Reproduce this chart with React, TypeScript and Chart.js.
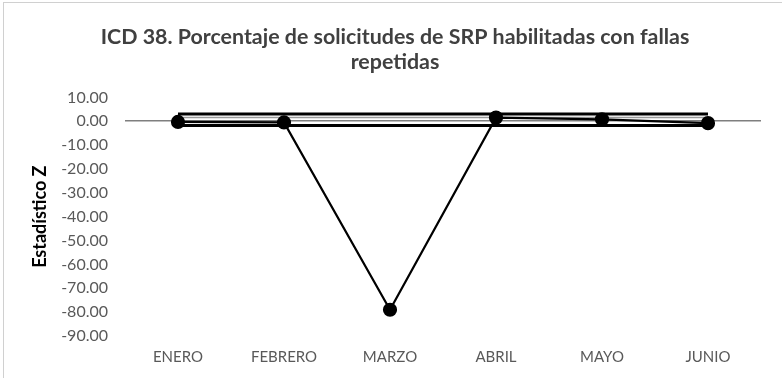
import React, { useEffect, useRef } from "react";
import { Chart, registerables } from "chart.js";

Chart.register(...registerables);

const categories = ["ENERO", "FEBRERO", "MARZO", "ABRIL", "MAYO", "JUNIO"];
const zValues = [-0.3, -0.5, -79.0, 1.5, 0.8, -0.8];
const upperLimit = [3.0, 3.0, 3.0, 3.0, 3.0, 3.0];
const midLine = [1.6, 1.6, 1.6, 1.6, 1.6, 1.6];
const lowerLimit = [-1.8, -1.8, -1.8, -1.8, -1.8, -1.8];
const titleLines = ["ICD 38. Porcentaje de solicitudes de SRP habilitadas con fallas", "repetidas"];
const yTitle = "Estadístico Z";

export default function App() {
  const ref = useRef<HTMLCanvasElement | null>(null);
  useEffect(() => {
    document.body.style.margin = "0";
    if (!ref.current) return;
    const chart = new Chart(ref.current, {
      type: "line",
      data: {
        labels: categories,
        datasets: [
          {
            label: "Z",
            data: zValues,
            borderColor: "#000000",
            backgroundColor: "#000000",
            borderWidth: 2.2,
            pointRadius: 6,
            pointHoverRadius: 6,
            tension: 0,
          },
          {
            label: "LS",
            data: upperLimit,
            borderColor: "#000000",
            borderWidth: 3,
            pointRadius: 0,
          },
          {
            label: "M",
            data: midLine,
            borderColor: "#9a9a9a",
            borderWidth: 1.5,
            pointRadius: 0,
          },
          {
            label: "LI",
            data: lowerLimit,
            borderColor: "#000000",
            borderWidth: 3,
            pointRadius: 0,
          },
        ],
      },
      options: {
        responsive: false,
        animation: false,
        layout: { padding: { left: 29, right: 21, top: 0, bottom: 0 } },
        plugins: {
          legend: { display: false },
          tooltip: { enabled: false },
          title: {
            display: true,
            text: titleLines,
            color: "#404040",
            font: { family: "Lato", size: 21.4, weight: "bold", lineHeight: 1.2 },
            padding: { top: 24, bottom: 22 },
          },
        },
        scales: {
          x: {
            offset: true,
            grid: { display: false, drawTicks: false },
            border: { display: false },
            ticks: {
              color: "#595959",
              font: { family: "Lato", size: 15 },
              padding: 12,
              maxRotation: 0,
            },
            afterFit: (s: any) => {
              s.height = 42;
            },
          },
          y: {
            min: -90,
            max: 10,
            ticks: {
              stepSize: 10,
              color: "#595959",
              font: { family: "Lato", size: 16 },
              padding: 17,
              callback: (v: any) => Number(v).toFixed(2),
            },
            grid: {
              drawTicks: false,
              color: (ctx: any) => (ctx.tick && ctx.tick.value === 0 ? "#7f7f7f" : "rgba(0,0,0,0)"),
              lineWidth: 1.5,
            },
            border: { display: false },
            title: {
              display: true,
              text: yTitle,
              color: "#000000",
              font: { family: "Lato", size: 18, weight: "bold" },
              padding: { top: 0, bottom: 0 },
            },
            afterFit: (s: any) => {
              s.width = 96;
            },
          },
        },
      },
    });
    return () => chart.destroy();
  }, []);
  return (
    <div style={{ position: "absolute", left: 0, top: 0, width: 782, height: 378, background: "#fff" }}>
      <canvas ref={ref} width={782} height={378} style={{ position: "absolute", left: 0, top: 0 }} />
      <div
        style={{
          position: "absolute",
          left: 3,
          top: 2,
          width: 779,
          height: 376,
          borderTop: "1px solid #d0d0d0",
          borderLeft: "1px solid #d0d0d0",
          boxSizing: "border-box",
          pointerEvents: "none",
        }}
      />
    </div>
  );
}
